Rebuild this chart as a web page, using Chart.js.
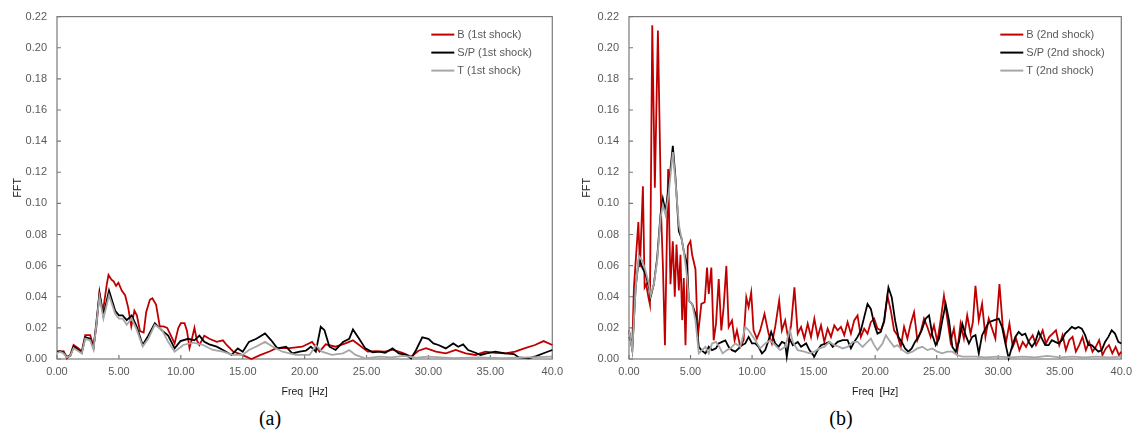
<!DOCTYPE html>
<html>
<head>
<meta charset="utf-8">
<script src="https://cdn.jsdelivr.net/npm/chart.js@4/dist/chart.umd.min.js"></script>
<style>
  body { margin: 0; background: #fff; width: 1138px; height: 430px; position: relative; overflow: hidden; }
  .panel { position: absolute; top: 0; width: 569px; height: 400px; }
  .tag { position: absolute; top: 407px; font: 20px "Times New Roman", "Liberation Serif", serif; line-height: 22px; color: #000; transform: translateX(-50%); }
</style>
</head>
<body>
<div class="panel" style="left:0"><canvas id="chartA" width="569" height="400"></canvas></div>
<div class="panel" style="left:569px"><canvas id="chartB" width="569" height="400"></canvas></div>
<div class="tag" style="left:270px">(a)</div>
<div class="tag" style="left:841px">(b)</div>

<script>
// ----- DATA ----- [freq Hz, FFT amplitude]

// (a) 1st shock
const b1st = [
  [0,0.0047],[0.27,0.0047],[0.54,0.005],[0.8,0.0004],[1.07,0.0026],[1.34,0.009],[1.74,0.0068],[2.0,0.0047],[2.28,0.0153],[2.68,0.0153],
  [2.95,0.0079],[3.2,0.022],[3.43,0.043],[3.7,0.030],[4.02,0.048],[4.16,0.054],[4.4,0.051],[4.56,0.050],[4.77,0.047],[4.96,0.049],
  [5.23,0.044],[5.5,0.041],[5.75,0.033],[6.0,0.021],[6.25,0.031],[6.45,0.028],[6.7,0.018],[7.0,0.017],[7.2,0.030],[7.5,0.038],
  [7.7,0.039],[8.0,0.035],[8.3,0.021],[8.6,0.021],[8.9,0.020],[9.2,0.015],[9.5,0.010],[9.8,0.020],[10.0,0.023],[10.3,0.023],
  [10.5,0.018],[10.7,0.007],[10.9,0.013],[11.1,0.020],[11.3,0.012],[11.5,0.009],[11.9,0.015],[12.3,0.013],[12.9,0.011],[13.4,0.012],
  [13.7,0.009],[14.2,0.005],[15.0,0.0025],[15.7,0.0],[16.4,0.0025],[17.2,0.005],[17.7,0.007],[18.8,0.007],[19.8,0.0079],[20.6,0.011],
  [21.2,0.0047],[21.7,0.0094],[22.5,0.0079],[23.3,0.010],[23.9,0.012],[24.4,0.009],[25.1,0.0047],[25.7,0.005],[26.5,0.0047],[27.1,0.006],
  [27.9,0.004],[28.6,0.0015],[29.2,0.0053],[29.8,0.007],[30.6,0.0047],[31.4,0.0036],[32.2,0.0058],[33.0,0.0036],[33.8,0.0026],[34.6,0.0047],
  [35.4,0.004],[36.2,0.0036],[37.0,0.0047],[37.8,0.007],[38.6,0.009],[39.3,0.0115],[40,0.009]
];
const sp1st = [
  [0,0.0047],[0.27,0.005],[0.54,0.004],[0.8,0.0015],[1.07,0.002],[1.34,0.0079],[1.74,0.0058],[2.0,0.004],[2.28,0.014],[2.68,0.013],
  [2.95,0.007],[3.43,0.042],[3.75,0.028],[4.2,0.044],[4.7,0.031],[5.0,0.028],[5.3,0.028],[5.63,0.025],[6.03,0.028],[6.43,0.021],
  [6.92,0.009],[7.37,0.015],[7.9,0.023],[8.45,0.0185],[8.98,0.015],[9.5,0.0068],[9.97,0.0115],[10.6,0.013],[11.1,0.012],[11.5,0.015],
  [11.9,0.011],[12.3,0.0094],[12.9,0.0079],[13.4,0.0058],[14.1,0.0026],[14.6,0.0068],[15.0,0.0047],[15.5,0.011],[16.1,0.013],[16.8,0.0164],
  [17.3,0.012],[17.8,0.0068],[18.5,0.0079],[19.0,0.0036],[19.6,0.0047],[20.1,0.0053],[20.5,0.0079],[20.9,0.0047],[21.3,0.0207],[21.6,0.0185],
  [22.0,0.0079],[22.5,0.0058],[23.1,0.011],[23.6,0.013],[23.9,0.019],[24.4,0.013],[24.9,0.0068],[25.5,0.0043],[26.0,0.0047],[26.5,0.004],
  [27.1,0.0068],[27.6,0.0036],[28.2,0.0026],[28.6,0.0004],[29.0,0.0058],[29.5,0.0139],[30.0,0.013],[30.4,0.010],[30.8,0.009],[31.4,0.0068],
  [32.0,0.010],[32.4,0.0079],[32.8,0.0094],[33.2,0.0058],[33.8,0.004],[34.2,0.0026],[34.7,0.0036],[35.4,0.0047],[36.2,0.0036],[36.9,0.0032],
  [37.3,0.001],[38.1,0.0004],[38.7,0.0019],[39.4,0.004],[40,0.0058]
];
const t1st = [
  [0,0.004],[0.27,0.0045],[0.54,0.0035],[0.8,0.001],[1.07,0.002],[1.34,0.007],[1.74,0.005],[2.0,0.0035],[2.28,0.013],[2.68,0.012],
  [2.95,0.006],[3.43,0.040],[3.75,0.026],[4.2,0.041],[4.7,0.029],[5.0,0.026],[5.3,0.026],[5.63,0.022],[6.03,0.026],[6.43,0.019],
  [6.92,0.008],[7.37,0.013],[7.9,0.022],[8.45,0.019],[8.98,0.011],[9.5,0.0047],[10.2,0.009],[11.0,0.0105],[11.8,0.009],[12.6,0.0058],
  [13.4,0.0047],[14.2,0.0026],[15.0,0.0026],[15.5,0.0058],[16.1,0.008],[16.8,0.011],[17.4,0.008],[18.2,0.0047],[19.3,0.0026],[20.4,0.0026],
  [20.9,0.0089],[21.4,0.0047],[22.2,0.0026],[23.1,0.0036],[23.6,0.0058],[24.1,0.0026],[24.9,0.0004],[26,0.0015],[27,0.001],[28,0.002],
  [29,0.0008],[30,0.0015],[31,0.001],[32,0.0005],[34,0.001],[36,0.0005],[38,0.001],[40,0.0015]
];

// (b) 2nd shock
const b2nd = [
  [0,0.0142],[0.27,0.01],[0.4,0.046],[0.76,0.088],[0.89,0.059],[1.13,0.111],[1.27,0.046],[1.4,0.048],[1.57,0.040],[1.7,0.035],
  [1.89,0.2145],[2.1,0.110],[2.35,0.211],[2.62,0.0905],[2.75,0.061],[2.92,0.0089],[3.18,0.122],[3.37,0.048],[3.56,0.0757],[3.72,0.040],
  [3.86,0.0735],[4.05,0.044],[4.18,0.067],[4.32,0.025],[4.45,0.052],[4.59,0.0089],[4.78,0.0725],[4.99,0.0757],[5.13,0.067],[5.4,0.0577],
  [5.59,0.0142],[5.88,0.0354],[6.15,0.0365],[6.34,0.0587],[6.48,0.0418],[6.69,0.0587],[6.88,0.012],[7.07,0.0227],[7.29,0.0513],[7.5,0.0184],
  [7.69,0.0333],[7.91,0.0598],[8.1,0.0206],[8.37,0.0248],[8.58,0.012],[8.77,0.0184],[9.04,0.0078],[9.31,0.012],[9.53,0.0396],[9.72,0.0333],
  [9.93,0.0428],[10.12,0.0184],[10.39,0.0131],[10.66,0.0184],[11.01,0.029],[11.34,0.0163],[11.61,0.010],[11.88,0.0206],[12.2,0.0375],[12.42,0.0184],
  [12.69,0.0248],[12.96,0.012],[13.17,0.0216],[13.44,0.046],[13.71,0.0163],[13.98,0.0206],[14.25,0.0131],[14.52,0.0227],[14.79,0.0142],[15.06,0.0259],
  [15.33,0.0142],[15.6,0.0216],[15.87,0.011],[16.14,0.0195],[16.41,0.0142],[16.68,0.0216],[16.95,0.0184],[17.22,0.0206],[17.49,0.0153],[17.76,0.0237],
  [18.03,0.0163],[18.3,0.0248],[18.57,0.028],[18.84,0.0142],[19.11,0.0195],[19.38,0.0163],[19.65,0.0237],[19.92,0.0259],[20.19,0.0195],[20.46,0.0184],
  [20.73,0.0237],[21.0,0.0407],[21.27,0.0312],[21.54,0.0184],[21.81,0.0153],[22.08,0.0078],[22.35,0.0206],[22.62,0.0131],[22.89,0.0227],[23.16,0.0301],
  [23.43,0.0121],[23.7,0.0174],[23.97,0.0259],[24.24,0.0206],[24.51,0.0142],[24.78,0.0216],[25.05,0.011],[25.32,0.0248],[25.59,0.0407],[25.86,0.0259],
  [26.13,0.011],[26.4,0.0195],[26.67,0.0047],[26.94,0.0227],[27.21,0.0131],[27.48,0.028],[27.75,0.0163],[27.94,0.0237],[28.15,0.047],[28.42,0.0248],
  [28.69,0.0354],[28.96,0.0142],[29.23,0.0259],[29.5,0.0195],[29.77,0.0131],[30.1,0.0481],[30.37,0.0206],[30.64,0.011],[30.91,0.0227],[31.18,0.0078],
  [31.45,0.0131],[31.72,0.0057],[31.99,0.011],[32.26,0.0078],[32.53,0.0121],[32.8,0.0153],[33.07,0.0089],[33.34,0.0131],[33.61,0.0184],[33.88,0.010],
  [34.15,0.0142],[34.42,0.0163],[34.69,0.0184],[34.96,0.0089],[35.23,0.0153],[35.5,0.0057],[35.77,0.0121],[36.04,0.0142],[36.31,0.0047],[36.58,0.0089],
  [36.85,0.0142],[37.12,0.0057],[37.39,0.011],[37.66,0.0047],[37.93,0.0078],[38.2,0.0121],[38.47,0.0025],[38.74,0.0068],[39.0,0.0089],[39.27,0.0036],
  [39.54,0.0078],[39.81,0.0025],[40,0.0047]
];
const sp2nd = [
  [0,0.0184],[0.27,0.0057],[0.54,0.046],[0.81,0.065],[1.08,0.0587],[1.35,0.0545],[1.62,0.046],[1.75,0.0396],[2.02,0.0481],[2.29,0.065],
  [2.56,0.0926],[2.75,0.103],[2.97,0.0947],[3.24,0.1117],[3.56,0.137],[3.78,0.116],[4.05,0.082],[4.26,0.0778],[4.45,0.0693],[4.72,0.0608],
  [4.86,0.0375],[5.13,0.0354],[5.4,0.029],[5.67,0.0078],[5.88,0.0057],[6.21,0.0036],[6.48,0.0078],[6.75,0.0057],[7.07,0.0068],[7.29,0.010],
  [7.56,0.011],[7.83,0.012],[8.1,0.0078],[8.37,0.0057],[8.64,0.0047],[8.91,0.0068],[9.18,0.0089],[9.45,0.010],[9.72,0.0142],[9.99,0.010],
  [10.26,0.010],[10.53,0.0078],[10.8,0.0036],[11.07,0.0057],[11.34,0.012],[11.55,0.0174],[11.88,0.010],[12.15,0.0078],[12.42,0.011],[12.69,0.010],
  [12.82,0.0015],[13.04,0.0131],[13.31,0.0089],[13.71,0.011],[13.98,0.0078],[14.39,0.010],[14.66,0.0057],[15.06,0.0015],[15.33,0.0057],[15.6,0.0089],
  [16.01,0.010],[16.28,0.011],[16.55,0.0078],[16.95,0.011],[17.36,0.0121],[17.76,0.0121],[18.03,0.0068],[18.3,0.011],[18.57,0.0142],[18.84,0.0184],
  [19.11,0.0269],[19.38,0.0354],[19.65,0.0322],[19.92,0.0227],[20.19,0.0163],[20.46,0.0174],[20.73,0.0248],[21.08,0.046],[21.35,0.0396],[21.62,0.0248],
  [21.89,0.0142],[22.16,0.011],[22.43,0.0068],[22.7,0.0047],[22.97,0.0068],[23.24,0.011],[23.51,0.0142],[23.78,0.0184],[24.1,0.0259],[24.38,0.028],
  [24.65,0.0153],[24.92,0.0089],[25.19,0.0131],[25.46,0.0248],[25.73,0.0354],[26.0,0.0248],[26.27,0.0078],[26.54,0.0047],[26.81,0.011],[27.08,0.0227],
  [27.35,0.0153],[27.62,0.010],[27.88,0.0142],[28.15,0.0153],[28.42,0.0036],[28.69,0.0153],[28.96,0.0195],[29.23,0.0237],[29.64,0.0248],[30.04,0.0259],
  [30.31,0.0206],[30.58,0.010],[30.85,0.0004],[31.12,0.0078],[31.39,0.0142],[31.66,0.0174],[31.93,0.0153],[32.2,0.0163],[32.47,0.011],[32.74,0.0078],
  [33.01,0.011],[33.28,0.0174],[33.55,0.0131],[33.82,0.0089],[34.09,0.0089],[34.36,0.0121],[34.63,0.011],[34.9,0.010],[35.17,0.0121],[35.44,0.0163],
  [35.71,0.0184],[35.98,0.0206],[36.25,0.0195],[36.52,0.0206],[36.79,0.0195],[37.06,0.0153],[37.33,0.0089],[37.6,0.0089],[37.87,0.0068],[38.14,0.0047],
  [38.41,0.0057],[38.68,0.011],[38.95,0.0142],[39.22,0.0184],[39.49,0.0163],[39.76,0.011],[40,0.010]
];
const t2nd = [
  [0,0.0184],[0.27,0.0057],[0.54,0.046],[0.81,0.0661],[1.08,0.063],[1.35,0.0566],[1.62,0.0481],[1.75,0.0407],[2.02,0.0481],[2.29,0.063],
  [2.56,0.0905],[2.75,0.099],[2.97,0.0926],[3.24,0.1075],[3.56,0.133],[3.78,0.1138],[4.05,0.0863],[4.24,0.0788],[4.45,0.0693],[4.72,0.0524],
  [4.86,0.0375],[5.13,0.0354],[5.4,0.0248],[5.67,0.0036],[5.94,0.0057],[6.21,0.0078],[6.48,0.0036],[6.75,0.010],[7.07,0.011],[7.34,0.0078],
  [7.61,0.0036],[7.96,0.0057],[8.23,0.0068],[8.64,0.010],[9.04,0.0078],[9.45,0.0206],[9.72,0.0184],[9.99,0.0153],[10.26,0.012],[10.66,0.0068],
  [11.07,0.010],[11.47,0.012],[11.88,0.0089],[12.28,0.0057],[12.69,0.0078],[13.06,0.019],[13.31,0.011],[13.71,0.0057],[14.25,0.0047],[14.66,0.0036],
  [15.06,0.0047],[15.47,0.0068],[15.87,0.0078],[16.28,0.011],[16.68,0.0089],[17.09,0.0078],[17.36,0.0068],[17.76,0.0078],[18.17,0.011],[18.57,0.011],
  [18.98,0.0078],[19.38,0.011],[19.65,0.0131],[19.92,0.0089],[20.19,0.0057],[20.6,0.010],[20.87,0.0153],[21.14,0.0121],[21.54,0.0078],[21.81,0.0089],
  [22.22,0.0057],[22.62,0.0036],[23.03,0.0047],[23.43,0.0068],[23.84,0.0078],[24.24,0.0057],[24.65,0.0068],[25.05,0.0047],[25.46,0.0036],[25.86,0.0047],
  [26.27,0.0047],[26.67,0.0025],[27.08,0.0015],[27.62,0.0015],[28.15,0.0015],[29,0.001],[30,0.0015],[31,0.001],[32,0.0015],[33,0.001],
  [34,0.002],[35,0.001],[36,0.0015],[37,0.001],[38,0.0015],[39,0.001],[40,0.0015]
];

// ----- AXES -----
const xTicks = [0, 5, 10, 15, 20, 25, 30, 35, 40];
const yMax = 0.22;
const yStep = 0.02;

// ----- STYLE -----
const FONT = '"Liberation Sans", Arial, sans-serif';
const red = '#C00000', black = '#000000', gray = '#A6A6A6';

// box around the plot area + inward tick marks
const frame = {
  id: 'frame',
  beforeDatasetsDraw(chart) {
    const { ctx, chartArea: a, scales } = chart;
    ctx.save();
    ctx.strokeStyle = '#7a7a7a';
    ctx.lineWidth = 1.2;
    ctx.strokeRect(a.left, a.top, a.right - a.left, a.bottom - a.top);
    ctx.beginPath();
    scales.y.ticks.forEach(t => {
      const y = scales.y.getPixelForValue(t.value);
      ctx.moveTo(a.left, y); ctx.lineTo(a.left + 4, y);
    });
    scales.x.ticks.forEach(t => {
      const x = scales.x.getPixelForValue(t.value);
      ctx.moveTo(x, a.bottom); ctx.lineTo(x, a.bottom - 4);
    });
    ctx.stroke();
    ctx.restore();
  }
};

// legend drawn inside the top-right corner of the plot
const innerLegend = {
  id: 'innerLegend',
  afterDraw(chart) {
    const { ctx, chartArea: a } = chart;
    const x0 = a.right - 121;
    ctx.save();
    ctx.font = '11px ' + FONT;
    ctx.textBaseline = 'middle';
    chart.data.datasets.forEach((ds, i) => {
      const y = a.top + 18 + i * 18;
      ctx.strokeStyle = ds.borderColor;
      ctx.lineWidth = 2;
      ctx.beginPath(); ctx.moveTo(x0, y); ctx.lineTo(x0 + 23, y); ctx.stroke();
      ctx.fillStyle = '#595959';
      ctx.fillText(ds.label, x0 + 26, y);
    });
    ctx.restore();
  }
};

function toPoints(rows) {
  return rows.map(r => ({ x: r[0], y: r[1] }));
}

function makeChart(id, series, yAxisWidth, topPad) {
  const ctx = document.getElementById(id).getContext('2d');
  return new Chart(ctx, {
    type: 'line',
    data: {
      // later series sit on top, like the spreadsheet original
      datasets: series.map((s, i) => ({
        label: s.label,
        data: toPoints(s.data),
        borderColor: s.color,
        borderWidth: 1.8,
        pointRadius: 0,
        tension: 0,
        clip: 4,
        order: series.length - i
      }))
    },
    options: {
      responsive: false,
      animation: false,
      devicePixelRatio: 1,
      layout: { padding: { top: topPad, right: 15, left: 0, bottom: 0 } },
      plugins: { legend: { display: false }, tooltip: { enabled: false } },
      scales: {
        x: {
          type: 'linear', min: 0, max: 40,
          afterBuildTicks: s => { s.ticks = xTicks.map(v => ({ value: v })); },
          afterFit: s => { s.height = 41; },
          grid: { display: false, drawTicks: false },
          border: { display: false },
          ticks: {
            padding: 6, color: '#595959', font: { family: FONT, size: 11 },
            maxRotation: 0,
            callback: v => (v === 40 ? '40.0' : v.toFixed(2))
          },
          title: { display: true, text: 'Freq  [Hz]', color: '#1a1a1a', font: { family: FONT, size: 10.5 }, padding: { top: 0, bottom: 2 } }
        },
        y: {
          min: 0, max: yMax,
          afterFit: s => { s.width = yAxisWidth; },
          grid: { display: false, drawTicks: false },
          border: { display: false },
          ticks: {
            stepSize: yStep, padding: 10, color: '#595959', font: { family: FONT, size: 11 },
            callback: v => v.toFixed(2)
          },
          title: { display: true, text: 'FFT', color: '#1a1a1a', font: { family: FONT, size: 10.5 }, padding: { top: 12, bottom: 0 } }
        }
      }
    },
    plugins: [frame, innerLegend]
  });
}

// ----- RENDER -----
makeChart('chartA', [
  { label: 'B (1st shock)', data: b1st, color: red },
  { label: 'S/P (1st shock)', data: sp1st, color: black },
  { label: 'T (1st shock)', data: t1st, color: gray }
], 57, 15);

makeChart('chartB', [
  { label: 'B (2nd shock)', data: b2nd, color: red },
  { label: 'S/P (2nd shock)', data: sp2nd, color: black },
  { label: 'T (2nd shock)', data: t2nd, color: gray }
], 60, 13);
</script>
</body>
</html>
